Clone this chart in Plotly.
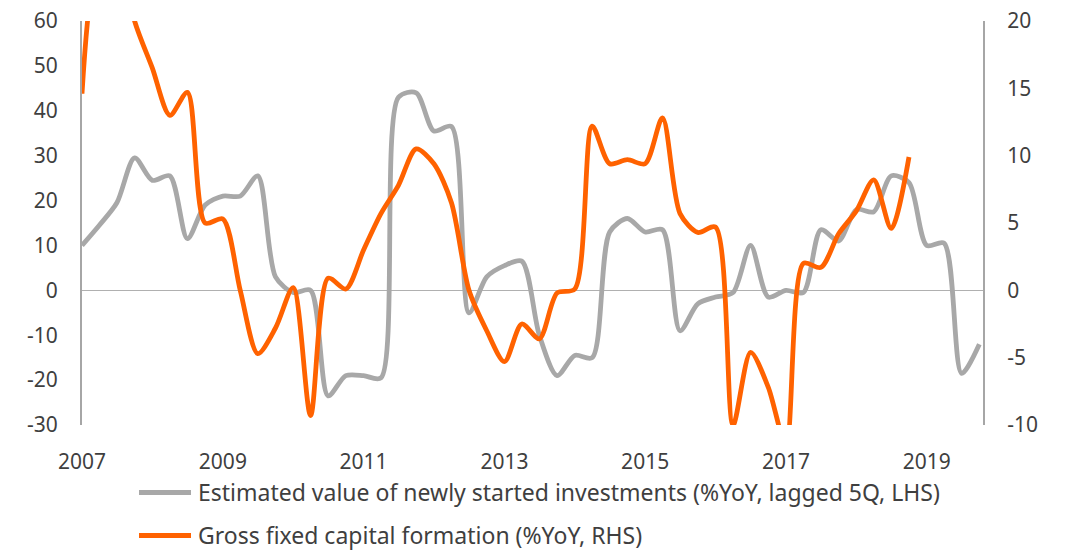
import plotly.graph_objects as go
import pandas as pd

# quarterly periods 2007Q1 .. 2019Q4
quarters = pd.date_range("2007-01-01", periods=52, freq="QS").strftime("%Y-%m-%d").tolist()

investments = [10, 14.5, 19.5, 29.5, 24.5, 25.5, 11.5, 19, 21, 21,
               25.5, 3, -0.5, 0, -23.5, -19, -19, -19.5, 43, 44,
               35.5, 36.5, -5, 3, 5.5, 6.5, -10, -19, -14.5, -15,
               13, 16, 13, 13.5, -9, -3, -1.5, -0.5, 10, -1.5,
               0, -0.5, 13.5, 11, 18, 17.5, 25.5, 24, 10, 10.5,
               -18.5, -12]

gfcf = [14.6, 25, 26, 20, 16.5, 13, 14.7, 5, 5.3, 0,
        -4.7, -2.8, 0.2, -9.3, 0.9, 0.1, 3, 5.7, 7.8, 10.5,
        9.4, 6.5, 0, -3, -5.3, -2.5, -3.6, -0.2, 0.1, 12.2,
        9.4, 9.7, 9.4, 12.8, 5.7, 4.3, 4.7, -10, -4.6, -7.2,
        -11.5, 2, 1.7, 4.2, 5.9, 8.2, 4.6, 9.9]

year_ticks = ["2007-01-01", "2009-01-01", "2011-01-01", "2013-01-01",
              "2015-01-01", "2017-01-01", "2019-01-01"]
year_labels = ["2007", "2009", "2011", "2013", "2015", "2017", "2019"]

left_ticks = [-30, -20, -10, 0, 10, 20, 30, 40, 50, 60]
left_labels = ["-30", "-20", "-10", "0", "10", "20", "30", "40", "50", "60"]
right_ticks = [-10, -5, 0, 5, 10, 15, 20]
right_labels = ["-10", "-5", "0", "5", "10", "15", "20"]

name_inv = "Estimated value of newly started investments (%YoY, lagged 5Q, LHS)"
name_gfcf = "Gross fixed capital formation (%YoY, RHS)"

GREY = "#A8A8A8"
ORANGE = "#FF6200"
TXT = "#3F3F3F"
FONT = "Noto Sans"

W, H = 1066, 550
ML, MR, MT, MB = 82, 83, 21, 125
PW, PH = W - ML - MR, H - MT - MB


def px_x(px):
    return (px - ML) / PW


def px_y(py):
    return (H - MB - py) / PH


fig = go.Figure()
fig.add_trace(go.Scatter(
    x=quarters, y=investments, name=name_inv, mode="lines",
    line=dict(color=GREY, width=4.8, shape="spline", smoothing=0.8),
    yaxis="y", showlegend=False))
fig.add_trace(go.Scatter(
    x=quarters[:len(gfcf)], y=gfcf, name=name_gfcf, mode="lines",
    line=dict(color=ORANGE, width=4.8, shape="spline", smoothing=0.8),
    yaxis="y2", showlegend=False))

# legend drawn as line samples + text
legend_items = [(name_inv, GREY, 492.5), (name_gfcf, ORANGE, 535.5)]
shapes = []
annotations = []
for text, color, ypx in legend_items:
    shapes.append(dict(type="line", xref="paper", yref="paper",
                       x0=px_x(139), x1=px_x(191), y0=px_y(ypx), y1=px_y(ypx),
                       line=dict(color=color, width=5)))
    annotations.append(dict(xref="paper", yref="paper", x=px_x(196), y=px_y(ypx - 0.5),
                            xanchor="left", yanchor="middle", showarrow=False,
                            text=text, font=dict(family=FONT, size=23, color=TXT)))

fig.update_layout(
    width=W, height=H,
    margin=dict(l=ML, r=MR, t=MT, b=MB, autoexpand=False),
    paper_bgcolor="white", plot_bgcolor="white",
    font=dict(family=FONT, size=21, color=TXT),
    xaxis=dict(
        type="date", range=["2007-01-01", "2019-10-20"],
        tickvals=year_ticks, ticktext=year_labels,
        showgrid=False, zeroline=False, showline=False,
        ticks="", ticklabelstandoff=22, automargin=False,
        tickfont=dict(size=21, color=TXT)),
    yaxis=dict(
        range=[-30, 60], tickvals=left_ticks, ticktext=left_labels,
        showgrid=False, zeroline=True, zerolinecolor="#B0B0B0", zerolinewidth=1,
        showline=True, linecolor="#A6A6A6", linewidth=2,
        ticks="", ticklabelstandoff=18, automargin=False,
        tickfont=dict(size=21, color=TXT)),
    yaxis2=dict(
        range=[-10, 20], tickvals=right_ticks, ticktext=right_labels,
        overlaying="y", side="right",
        showgrid=False, zeroline=False,
        showline=True, linecolor="#A6A6A6", linewidth=2,
        ticks="", ticklabelstandoff=18, automargin=False,
        tickfont=dict(size=21, color=TXT)),
    shapes=shapes,
    annotations=annotations,
    showlegend=False,
)

fig.write_html("out.html",
               config={"displayModeBar": False},
               post_script="document.body.style.margin='0';document.body.style.overflow='hidden';")
